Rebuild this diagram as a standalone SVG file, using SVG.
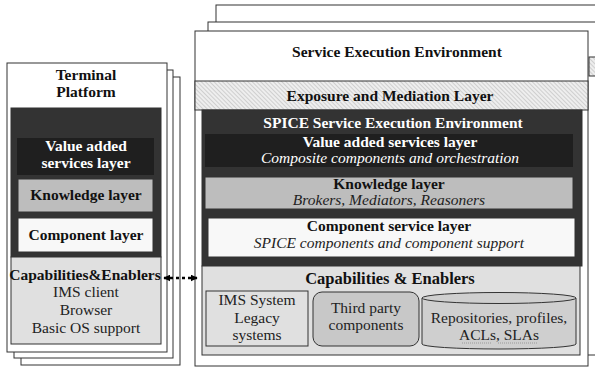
<svg xmlns="http://www.w3.org/2000/svg" width="595" height="369" viewBox="0 0 595 369">
<defs>
<pattern id="hatch" width="3" height="3" patternUnits="userSpaceOnUse" patternTransform="rotate(-45)">
<rect width="3" height="3" fill="#eeeeee"/>
<line x1="0" y1="0" x2="0" y2="3" stroke="#b0b0b0" stroke-width="1"/>
</pattern>
<marker id="ah" viewBox="0 0 10 10" refX="9" refY="5" markerWidth="7" markerHeight="7" orient="auto-start-reverse" markerUnits="userSpaceOnUse">
<path d="M0,0 L10,5 L0,10 z" fill="#000"/>
</marker>
</defs>
<style>
.frame{fill:#fff;stroke:#333;stroke-width:1}
.b{font-family:"Liberation Serif","Times New Roman",serif;font-weight:bold;font-size:15.5px;text-anchor:middle;fill:#111}
.r{font-family:"Liberation Serif","Times New Roman",serif;font-size:15.5px;text-anchor:middle;fill:#222}
.i{font-family:"Liberation Serif","Times New Roman",serif;font-style:italic;font-size:15.5px;text-anchor:middle;fill:#222}
.w{fill:#fff}
.ln{stroke:#333;stroke-width:1}
</style>
<rect width="595" height="369" fill="#fff"/>

<g id="terminal-platform">
<rect class="frame" x="21" y="77" width="159" height="288"/>
<rect class="frame" x="14" y="70" width="159" height="288"/>
<rect class="frame" x="7" y="63" width="160" height="289"/>
<text class="b" x="86" y="80">Terminal</text>
<text class="b" x="86" y="97">Platform</text>
<rect x="11" y="108" width="150" height="149" fill="#333" class="ln"/>
<g id="t-value-added">
<rect x="17" y="138" width="137" height="37" fill="#1f1f1f"/>
<text class="b w" x="86" y="151">Value added</text>
<text class="b w" x="86" y="168">services layer</text>
</g>
<g id="t-knowledge">
<rect x="18" y="179" width="135" height="33" fill="#bdbdbd" class="ln"/>
<text class="b" x="86" y="200">Knowledge layer</text>
</g>
<g id="t-component">
<rect x="18" y="218" width="135" height="34" fill="#f8f8f8" class="ln"/>
<text class="b" x="86" y="240">Component layer</text>
</g>
<g id="t-capabilities">
<rect x="11" y="257" width="150" height="87" fill="#e0e0e0" class="ln"/>
<text class="b" x="85" y="280">Capabilities&amp;Enablers</text>
<text class="r" x="86" y="297">IMS client</text>
<text class="r" x="86" y="315">Browser</text>
<text class="r" x="86" y="333">Basic OS support</text>
</g>
</g>

<g id="service-execution-environment">
<rect class="frame" x="216" y="5" width="400" height="345"/>
<rect class="frame" x="208" y="22" width="400" height="333"/>
<rect x="589" y="57" width="10" height="19" fill="url(#hatch)" class="ln"/>
<rect class="frame" x="195" y="31" width="393" height="335"/>
<text class="b" x="397" y="57">Service Execution Environment</text>
<g id="exposure-mediation">
<rect x="195" y="81" width="393" height="29" fill="url(#hatch)" class="ln"/>
<text class="b" x="390" y="101">Exposure and Mediation Layer</text>
</g>
<g id="spice-see">
<rect x="202" y="110" width="380" height="156" fill="#333" class="ln"/>
<text class="b w" x="393" y="128">SPICE Service Execution Environment</text>
<g id="s-value-added">
<rect x="205" y="134" width="368" height="33" fill="#1f1f1f"/>
<text class="b w" x="390" y="147">Value added services layer</text>
<text class="i w" x="390" y="163">Composite components and orchestration</text>
</g>
<g id="s-knowledge">
<rect x="205" y="177" width="368" height="32" fill="#bdbdbd" class="ln"/>
<text class="b" x="389" y="189">Knowledge layer</text>
<text class="i" x="389" y="205">Brokers, Mediators, Reasoners</text>
</g>
<g id="s-component">
<rect x="208" y="218" width="367" height="39" fill="#f8f8f8" class="ln"/>
<text class="b" x="389" y="231">Component service layer</text>
<text class="i" x="389" y="248">SPICE components and component support</text>
</g>
</g>
<g id="s-capabilities">
<rect x="202" y="266" width="378" height="89" fill="#e0e0e0" class="ln"/>
<text class="b" x="390" y="284" style="font-size:16.5px">Capabilities &amp; Enablers</text>
<g id="ims-system">
<rect x="206" y="291" width="102" height="55" fill="#e0e0e0" class="ln"/>
<text class="r" x="257" y="305">IMS System</text>
<text class="r" x="257" y="323">Legacy</text>
<text class="r" x="257" y="340">systems</text>
</g>
<g id="third-party">
<rect x="313" y="292" width="106" height="54" rx="9" fill="#c8c8c8" class="ln"/>
<text class="r" x="366" y="313">Third party</text>
<text class="r" x="366" y="330">components</text>
</g>
<g id="repositories">
<path d="M422,298 L422,344 A77,5 0 0 0 576,344 L576,298" fill="#cfcfcf" class="ln"/>
<ellipse cx="499" cy="298" rx="77" ry="5.5" fill="#cfcfcf" class="ln"/>
<text class="r" x="499" y="323">Repositories, profiles,</text>
<text class="r" x="499" y="340">ACLs, SLAs</text>
<line x1="462" y1="343" x2="492" y2="343" stroke="#999" stroke-width="1" stroke-dasharray="1,1"/>
<line x1="498" y1="343" x2="537" y2="343" stroke="#999" stroke-width="1" stroke-dasharray="1,1"/>
</g>
</g>
</g>

<g id="connectors">
<line x1="164" y1="278" x2="197" y2="278" stroke="#000" stroke-width="2.5" stroke-dasharray="3,3" marker-start="url(#ah)" marker-end="url(#ah)"/>
</g>
</svg>
